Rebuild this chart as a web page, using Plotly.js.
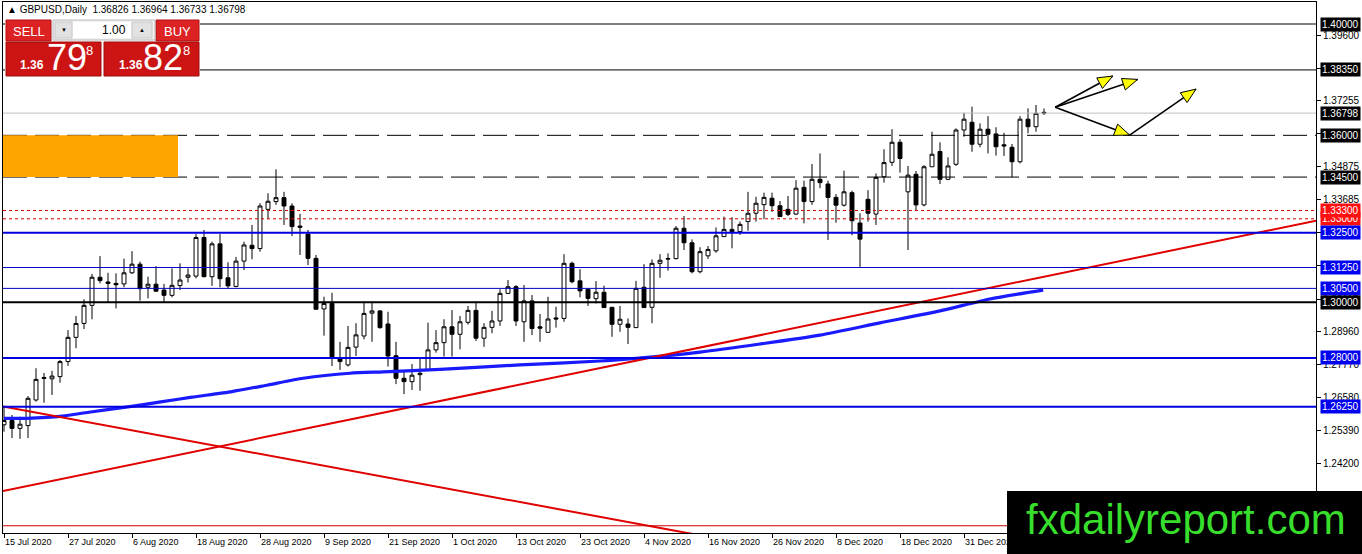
<!DOCTYPE html>
<html>
<head>
<meta charset="utf-8">
<script src="https://cdn.plot.ly/plotly-3.0.1.min.js"></script>
<style>html,body{margin:0;padding:0;background:#fff;}#chart{width:1362px;height:554px;}</style>
</head>
<body>
<div id="chart"></div>
<script>
// ---------- data ----------
const dateLabels = ['15 Jul 2020','27 Jul 2020','6 Aug 2020','18 Aug 2020','28 Aug 2020','9 Sep 2020','21 Sep 2020','1 Oct 2020','13 Oct 2020','23 Oct 2020','4 Nov 2020','16 Nov 2020','26 Nov 2020','8 Dec 2020','18 Dec 2020','31 Dec 2020'];
const dateTickBars = [0,8,16,24,32,40,48,56,64,72,80,88,96,104,112,120];

const open = [1.2560,1.2575,1.2547,1.2557,1.2649,1.2730,1.2725,1.2733,1.2787,1.2874,
1.2924,1.2989,1.3090,1.3073,1.3068,1.3066,1.3106,1.3137,1.3054,1.3065,
1.3044,1.3025,1.3060,1.3090,1.3094,1.3233,1.3092,1.3210,1.3088,1.3057,
1.3148,1.3205,1.3193,1.3334,1.3362,1.3376,1.3346,1.3274,1.3245,1.3158,
1.2976,1.2996,1.2799,1.2775,1.2839,1.2879,1.2961,1.2969,1.2922,1.2808,
1.2727,1.2715,1.2740,1.2757,1.2829,1.2855,1.2912,1.2885,1.2928,1.2971,
1.2871,1.2910,1.2933,1.3032,1.3056,1.2930,1.3005,1.2912,1.2892,1.2944,
1.2942,1.3140,1.3077,1.3047,1.3013,1.3036,1.2982,1.2921,1.2922,1.2909,
1.3054,1.2982,1.3140,1.3155,1.3157,1.3266,1.3214,1.3110,1.3167,1.3185,
1.3236,1.3262,1.3254,1.3290,1.3320,1.3351,1.3374,1.3347,1.3334,1.3317,
1.3413,1.3362,1.3442,1.3425,1.3377,1.3349,1.3394,1.3285,1.3370,1.3317,
1.3451,1.3503,1.3575,1.3397,1.3460,1.3350,1.3487,1.3542,1.3442,1.3496,
1.3619,1.3647,1.3568,1.3622,1.3605,1.3566,1.3557,1.3505,1.3658,1.3631,
1.36826];
const high = [1.2625,1.2595,1.2589,1.2663,1.2763,1.2746,1.2754,1.2793,1.2900,1.2951,
1.3011,1.3102,1.3166,1.3106,1.3104,1.3157,1.3184,1.3146,1.3092,1.3130,
1.3066,1.3122,1.3140,1.3122,1.3245,1.3260,1.3218,1.3245,1.3144,1.3163,
1.3218,1.3278,1.3356,1.3392,1.3478,1.3397,1.3356,1.3318,1.3260,1.3170,
1.3020,1.3034,1.2858,1.2915,1.2925,1.3002,1.3002,1.2972,1.2966,1.2858,
1.2751,1.2778,1.2799,1.2927,1.2900,1.2939,1.2972,1.2951,1.2987,1.3002,
1.2925,1.2969,1.3047,1.3080,1.3062,1.3062,1.3026,1.2958,1.3020,1.2984,
1.3173,1.3146,1.3119,1.3047,1.3076,1.3060,1.2982,1.2987,1.2942,1.3077,
1.3137,1.3154,1.3173,1.3176,1.3274,1.3310,1.3226,1.3198,1.3202,1.3269,
1.3308,1.3306,1.3290,1.3397,1.3379,1.3394,1.3394,1.3364,1.3382,1.3439,
1.3437,1.3497,1.3535,1.3437,1.3389,1.3473,1.3401,1.3320,1.3403,1.3463,
1.3550,1.3622,1.3586,1.3490,1.3472,1.3493,1.3613,1.3575,1.3521,1.3625,
1.3681,1.3703,1.3643,1.3669,1.3629,1.3609,1.3569,1.3669,1.3697,1.3709,
1.36964];
const low = [1.2535,1.2512,1.2509,1.2512,1.2643,1.2639,1.2667,1.2711,1.2772,1.2835,
1.2904,1.2939,1.3068,1.2999,1.2978,1.3054,1.3102,1.3006,1.3014,1.3037,
1.3002,1.3018,1.3044,1.3071,1.3086,1.3090,1.3059,1.3054,1.3050,1.3054,
1.3116,1.3155,1.3182,1.3299,1.3350,1.3278,1.3238,1.3170,1.3134,1.2975,
1.2880,1.2771,1.2757,1.2769,1.2807,1.2867,1.2858,1.2905,1.2769,1.2706,
1.2670,1.2685,1.2682,1.2757,1.2819,1.2805,1.2805,1.2831,1.2920,1.2861,
1.2840,1.2889,1.2915,1.3030,1.2915,1.2858,1.2882,1.2858,1.2892,1.2909,
1.2930,1.3068,1.3018,1.2987,1.2996,1.2981,1.2876,1.2894,1.2850,1.2909,
1.2981,1.2925,1.3088,1.3114,1.3154,1.3188,1.3104,1.3104,1.3156,1.3178,
1.3236,1.3194,1.3242,1.3257,1.3290,1.3299,1.3325,1.3308,1.3310,1.3314,
1.3284,1.3350,1.3410,1.3224,1.3286,1.3344,1.3241,1.3127,1.3290,1.3278,
1.3430,1.3490,1.3466,1.3188,1.3332,1.3345,1.3487,1.3425,1.3439,1.3490,
1.3595,1.3541,1.3557,1.3535,1.3527,1.3526,1.3449,1.3499,1.3607,1.3613,
1.36733];
const close = [1.2575,1.2547,1.2562,1.2655,1.2723,1.2727,1.2735,1.2787,1.2874,1.2924,
1.2989,1.3090,1.3078,1.3068,1.3063,1.3106,1.3137,1.3049,1.3065,1.3040,
1.3025,1.3061,1.3080,1.3098,1.3233,1.3092,1.3210,1.3085,1.3059,1.3148,
1.3206,1.3193,1.3346,1.3363,1.3376,1.3346,1.3272,1.3270,1.3158,1.2975,
1.2996,1.2804,1.2787,1.2838,1.2883,1.2960,1.2969,1.2909,1.2807,1.2727,
1.2715,1.2738,1.2745,1.2829,1.2855,1.2912,1.2885,1.2930,1.2971,1.2871,
1.2910,1.2933,1.3032,1.3056,1.2933,1.3005,1.2906,1.2907,1.2940,1.2940,
1.3140,1.3074,1.3041,1.3014,1.3036,1.2981,1.2921,1.2939,1.2910,1.3050,
1.2981,1.3140,1.3151,1.3157,1.3266,1.3214,1.3110,1.3182,1.3190,1.3239,
1.3262,1.3254,1.3280,1.3320,1.3356,1.3377,1.3347,1.3308,1.3316,1.3410,
1.3362,1.3442,1.3430,1.3377,1.3349,1.3397,1.3293,1.3227,1.3320,1.3449,
1.3502,1.3575,1.3517,1.3457,1.3350,1.3487,1.3532,1.3442,1.3490,1.3619,
1.3658,1.3568,1.3622,1.3604,1.3559,1.3562,1.3505,1.3658,1.3631,1.3679,
1.36798];

// moving average
const maBar = [0,2.9,7.3,10.6,15.7,19.6,23.5,28.5,33,37.4,43.25,47.4,54.5,64.5,74.5,80.75,87,94.5,102,109.5,117,123.25,129.9];
const maVal = [1.2583,1.2583,1.2591,1.2605,1.2625,1.2642,1.2659,1.2679,1.2703,1.2727,1.2745,1.2750,1.2759,1.2775,1.2789,1.2803,1.2821,1.2850,1.2882,1.2926,1.2969,1.3012,1.3044];

// trend lines (two end points each)
const trendUpBar = [-0.125, 164];
const trendUpVal = [1.2322, 1.3293];
const trendDownBar = [-0.125, 164];
const trendDownVal = [1.2626, 1.1753];

// horizontal levels
const levels = [1.40000,1.38350,1.36798,1.36000,1.34500,1.33300,1.33000,1.32500,1.31250,1.30500,1.30000,1.28000,1.26250,1.21970];
const levelKinds = ['black','black','price','blackDash','blackDash','redDot','redDot','blueBold','blue','blue','blackBold','blueBold','blueBold','redThin'];
const labelLevels = [1.40000,1.38350,1.36798,1.36000,1.34500,1.33000,1.33300,1.32500,1.31250,1.30500,1.30000,1.28000,1.26250];
const labelKinds = ['black','black','black','black','black','red','red','blue','blue','blue','black','blue','blue'];

// y tick values of the price scale
const yTicks = [1.39600,1.38410,1.37255,1.36065,1.34875,1.33685,1.32495,1.31305,1.30115,1.28960,1.27770,1.26580,1.25390,1.24200];

// orange zone
const zoneBar = [-1, 21.75];
const zoneVal = [1.34500, 1.36000];

// arrows (start -> end)
const arrowFromBar = [131.4,131.4,131.4,140.7];
const arrowFromVal = [1.3701,1.3701,1.3701,1.3601];
const arrowToBar = [138.6,141.7,140.7,149.0];
const arrowToVal = [1.3813,1.3801,1.3601,1.3766];

const titleText = '\u25B2 GBPUSD,Daily  1.36826 1.36964 1.36733 1.36798';

// ---------- layout geometry ----------
const W = 1362, H = 554;
const M = {l:3, r:46, t:2, b:21};
const PW = W - M.l - M.r, PH = H - M.t - M.b;
const XR = [-0.125, 164];
const YR = [1.21710, 1.40791];
const px = x => (x - M.l) / PW;
const py = y => (M.t + PH - y) / PH;
const FONT = 'Liberation Sans, Arial, sans-serif';
const NARROW = 'Liberation Sans Narrow, Arial Narrow, Liberation Sans, sans-serif';

const bars = open.map((_, i) => i);

const traces = [];
traces.push({
  type: 'candlestick', x: bars, open: open, high: high, low: low, close: close,
  increasing: {line: {color: '#000', width: 1}, fillcolor: '#ffffff'},
  decreasing: {line: {color: '#000', width: 1}, fillcolor: '#000000'},
  whiskerwidth: 0, hoverinfo: 'skip', showlegend: false
});
traces.push({type: 'scatter', mode: 'lines', x: maBar, y: maVal, line: {color: '#1a1aff', width: 3.2, shape: 'spline', smoothing: 0.6}, hoverinfo: 'skip'});
traces.push({type: 'scatter', mode: 'lines', x: trendUpBar, y: trendUpVal, line: {color: '#e00000', width: 2}, hoverinfo: 'skip'});
traces.push({type: 'scatter', mode: 'lines', x: trendDownBar, y: trendDownVal, line: {color: '#e00000', width: 2}, hoverinfo: 'skip'});

const lineStyle = {
  black: {color: '#000', width: 1, dash: 'solid'},
  price: {color: '#c0c0c0', width: 1, dash: 'solid'},
  blackDash: {color: '#000', width: 1, dash: '24px,8px'},
  redDot: {color: '#d00000', width: 1, dash: '3px,3px'},
  blueBold: {color: '#0000e0', width: 2, dash: 'solid'},
  blue: {color: '#0000c8', width: 1, dash: 'solid'},
  blackBold: {color: '#000', width: 2, dash: 'solid'},
  redThin: {color: '#d00000', width: 1, dash: 'solid'}
};

const shapes = [];
levels.forEach((v, k) => {
  shapes.push({type: 'line', xref: 'paper', yref: 'y', x0: 0, x1: 1, y0: v, y1: v,
    line: lineStyle[levelKinds[k]], layer: 'above'});
});
// orange zone
shapes.push({type: 'rect', xref: 'x', yref: 'y', x0: zoneBar[0], x1: zoneBar[1], y0: zoneVal[0], y1: zoneVal[1],
  fillcolor: '#ffa500', line: {width: 0}, layer: 'above'});

// arrows: black lines + yellow heads computed through the axis scales
const kx = PW / (XR[1] - XR[0]);
const ky = PH / (YR[1] - YR[0]);
arrowFromBar.forEach((_, k) => {
  const x0 = arrowFromBar[k], y0 = arrowFromVal[k], x1 = arrowToBar[k], y1 = arrowToVal[k];
  shapes.push({type: 'line', xref: 'x', yref: 'y', x0: x0, y0: y0, x1: x1, y1: y1, line: {color: '#000', width: 1.6}, layer: 'above'});
  const dx = (x1 - x0) * kx, dy = -(y1 - y0) * ky;
  const len = Math.hypot(dx, dy), ux = dx / len, uy = dy / len;
  const L = 15, Wd = 6;
  const bx = -ux * L, by = -uy * L;
  const c1x = bx - uy * Wd, c1y = by + ux * Wd;
  const c2x = bx + uy * Wd, c2y = by - ux * Wd;
  const toX = d => x1 + d / kx, toY = d => y1 - d / ky;
  const path = 'M' + x1 + ',' + y1 + ' L' + toX(c1x) + ',' + toY(c1y) + ' L' + toX(c2x) + ',' + toY(c2y) + ' Z';
  shapes.push({type: 'path', xref: 'x', yref: 'y', path: path, fillcolor: '#ffff00', line: {color: '#000', width: 1}, layer: 'above'});
});

// trading panel
function box(x0, y0, x1, y1, fill, lc, lw) {
  shapes.push({type: 'rect', xref: 'paper', yref: 'paper', x0: px(x0), x1: px(x1), y0: py(y1), y1: py(y0),
    fillcolor: fill, line: {color: lc || fill, width: lw === undefined ? 1 : lw}, layer: 'above'});
}
box(5, 19, 200, 77, '#ffffff', '#ffffff', 0);
box(6, 20, 51, 41, '#dc2222', '#b01010', 1);
box(156, 20, 199, 41, '#dc2222', '#b01010', 1);
box(53, 20, 155, 40, '#f2f2f2', '#b8b8b8', 1);
box(55, 22, 72, 38, '#e2e2e2', '#c8c8c8', 1);
box(73, 22, 131, 38, '#ffffff', '#ffffff', 0);
box(132, 22, 152, 38, '#e2e2e2', '#c8c8c8', 1);
box(6, 42, 101, 76, '#cc1414', '#a00c0c', 1);
box(104, 42, 199, 76, '#cc1414', '#a00c0c', 1);

// logo
box(1007, 491, 1367, 560, '#000000', '#000000', 0);

const annotations = [];
function txt(x, y, t, size, color, anchor, bold, fam) {
  annotations.push({xref: 'paper', yref: 'paper', x: px(x), y: py(y), text: bold ? '<b>' + t + '</b>' : t,
    showarrow: false, xanchor: anchor || 'center', yanchor: 'middle',
    font: {family: fam || FONT, size: size, color: color}});
}
txt(5, 9, titleText, 10, '#000', 'left');
txt(28.5, 31, 'SELL', 13, '#fff');
txt(177.5, 31, 'BUY', 13, '#fff');
txt(128, 30, '1.00', 12, '#000', 'right');
txt(63.5, 30, '\u25BC', 6, '#000');
txt(142, 30, '\u25B2', 6, '#000');
txt(32, 65, '1.36', 12, '#fff', 'center', true);
txt(67, 58, '79', 36, '#fff', 'center', false, NARROW);
txt(89, 51, '8', 13, '#fff');
txt(130.5, 65, '1.36', 12, '#fff', 'center', true);
txt(162.5, 58, '82', 36, '#fff', 'center', false, NARROW);
txt(186, 51, '8', 13, '#fff');
txt(1186, 519, 'fxdailyreport.com', 42, '#38de2c');

const labelBg = {black: '#000000', red: '#ff1010', blue: '#0000f0'};
labelLevels.forEach((v, k) => {
  annotations.push({xref: 'paper', yref: 'y', x: 1, y: v, xanchor: 'left', yanchor: 'middle', xshift: 4,
    text: v.toFixed(5), showarrow: false, bgcolor: labelBg[labelKinds[k]], borderpad: 1,
    font: {family: FONT, size: 10, color: '#fff'}});
});

const layout = {
  width: W, height: H, margin: {l: M.l, r: M.r, t: M.t, b: M.b, pad: 0},
  paper_bgcolor: '#fff', plot_bgcolor: '#fff', showlegend: false,
  xaxis: {range: XR, tickvals: dateTickBars, ticktext: dateLabels, ticks: 'outside', ticklen: 4, tickcolor: '#000',
    ticklabelposition: 'outside right',
    showgrid: false, zeroline: false, showline: true, mirror: true, linecolor: '#000', linewidth: 1,
    tickfont: {family: FONT, size: 9, color: '#000'}, rangeslider: {visible: false}, fixedrange: true},
  yaxis: {range: YR, side: 'right', tickvals: yTicks, ticktext: yTicks.map(v => v.toFixed(5)), ticks: 'outside', ticklen: 4,
    tickcolor: '#000', showgrid: false, zeroline: false, showline: true, mirror: true, linecolor: '#000', linewidth: 1,
    tickfont: {family: FONT, size: 10, color: '#000'}, fixedrange: true},
  shapes: shapes, annotations: annotations
};

Plotly.newPlot('chart', traces, layout, {staticPlot: true, displayModeBar: false});
</script>
</body>
</html>
